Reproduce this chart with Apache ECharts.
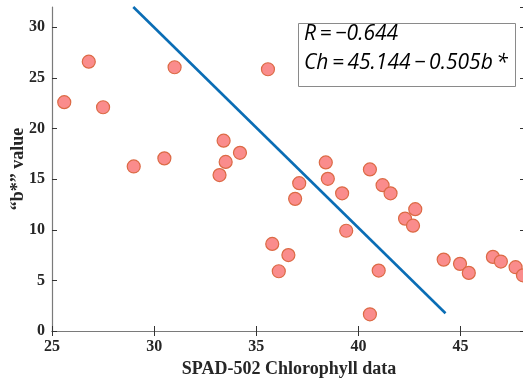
<!DOCTYPE html>
<html>
<head>
<meta charset="utf-8">
<script src="https://cdn.jsdelivr.net/npm/echarts@6/dist/echarts.min.js"></script>
<style>html,body{margin:0;padding:0;background:#fff}#c{width:523px;height:382px}</style>
</head>
<body>
<div id="c"></div>
<script>
// SPAD-502 chlorophyll readings (x) and b* values (y)
var spadValues = [25.6, 26.8, 27.5, 29.0, 30.5, 31.0, 33.2, 33.4, 33.5, 34.2, 35.57, 35.78, 36.1, 36.57, 36.9, 37.1, 38.4, 38.5, 39.2, 39.4, 40.56, 40.56, 40.99, 41.18, 41.57, 42.28, 42.78, 42.67, 44.17, 44.97, 45.4, 46.58, 46.97, 47.69, 48.05];
var bValues    = [22.6, 26.6, 22.1, 16.25, 17.05, 26.05, 15.4, 18.8, 16.7, 17.6, 25.85, 8.6, 5.9, 7.5, 13.05, 14.6, 16.65, 15.03, 13.6, 9.9, 15.96, 1.65, 5.97, 14.4, 13.6, 11.1, 12.03, 10.4, 7.05, 6.63, 5.74, 7.32, 6.86, 6.3, 5.5];
// fitted line endpoints (Ch = 45.144 - 0.505 b*)
var fitX = [28.98, 44.26];
var fitY = [32, 1.75];
var xTicks = [25, 30, 35, 40, 45];
var yTicks = [0, 5, 10, 15, 20, 25, 30];
var annotationLines = ['R\u2009=\u2009\u22120.644', 'Ch\u2009=\u200945.144\u2009\u2212\u20090.505b\u2009*'];

var pts = spadValues.map(function (x, i) { return [x, bValues[i]]; });
var fit = fitX.map(function (x, i) { return [x, fitY[i]]; });

var axisCol = '#7a7a7a';
var labelFont = { fontFamily: 'Liberation Serif', fontWeight: 'bold', fontSize: 16, color: '#262626' };

var chart = echarts.init(document.getElementById('c'), null, { renderer: 'canvas' });
chart.setOption({
  animation: false,
  grid: { left: 52, right: -3, top: 7, bottom: 51, show: false, containLabel: false, outerBoundsMode: 'none' },
  xAxis: [{
    type: 'value', min: 25, max: 48.2, interval: 5, position: 'bottom',
    name: 'SPAD-502 Chlorophyll data', nameLocation: 'middle', nameGap: 28,
    nameTextStyle: { fontFamily: 'Liberation Serif', fontWeight: 'bold', fontSize: 18, color: '#262626' },
    axisLine: { show: true, lineStyle: { color: axisCol, width: 1.2 } },
    axisTick: { show: true, inside: true, length: 5, lineStyle: { color: '#333' } },
    axisLabel: Object.assign({ margin: 8, showMaxLabel: false, formatter: function (v) { return xTicks.indexOf(v) >= 0 ? String(v) : ''; } }, labelFont),
    splitLine: { show: false }
  }, {
    type: 'value', min: 25, max: 48.2, interval: 5, position: 'top',
    axisLine: { show: true, lineStyle: { color: axisCol, width: 1.2 } },
    axisTick: { show: true, inside: true, length: 5, lineStyle: { color: '#333' } },
    axisLabel: { show: false }, splitLine: { show: false }
  }],
  yAxis: [{
    type: 'value', min: 0, max: 32, interval: 5, position: 'left',
    name: '\u201Cb*\u201D value', nameLocation: 'middle', nameGap: 25, nameMoveOverlap: false,
    nameTextStyle: { fontFamily: 'Liberation Serif', fontWeight: 'bold', fontSize: 18, color: '#262626' },
    axisLine: { show: true, lineStyle: { color: axisCol, width: 1.2 } },
    axisTick: { show: true, inside: true, length: 5, lineStyle: { color: '#333' } },
    axisLabel: Object.assign({ margin: 7, showMaxLabel: false, formatter: function (v) { return yTicks.indexOf(v) >= 0 ? String(v) : ''; } }, labelFont),
    splitLine: { show: false }
  }, {
    type: 'value', min: 0, max: 32, interval: 5, position: 'right',
    axisLine: { show: true, lineStyle: { color: axisCol, width: 1.2 } },
    axisTick: { show: true, inside: true, length: 6, lineStyle: { color: '#333' } },
    axisLabel: { show: false }, splitLine: { show: false }
  }],
  series: [{
    type: 'line', data: fit, showSymbol: false, clip: true,
    lineStyle: { color: '#0a6db5', width: 2.6 }, z: 3
  }, {
    type: 'scatter', data: pts, symbol: 'circle', symbolSize: 13, clip: false,
    itemStyle: { color: '#fa8c8c', borderColor: '#dc6a45', borderWidth: 1.2, opacity: 1 }, z: 4
  }],
  graphic: [{
    type: 'rect', left: 298, top: 23, z: 10,
    shape: { width: 217, height: 63 },
    style: { fill: '#fff', stroke: '#8a8a8a', lineWidth: 1 }
  }, {
    type: 'text', left: 304, top: 24, z: 11,
    style: { text: annotationLines[0], font: 'italic 21px "Open Sans"', fill: '#000' }
  }, {
    type: 'text', left: 304, top: 53, z: 11,
    style: { text: annotationLines[1], font: 'italic 21px "Open Sans"', fill: '#000' }
  }]
});
</script>
</body>
</html>
